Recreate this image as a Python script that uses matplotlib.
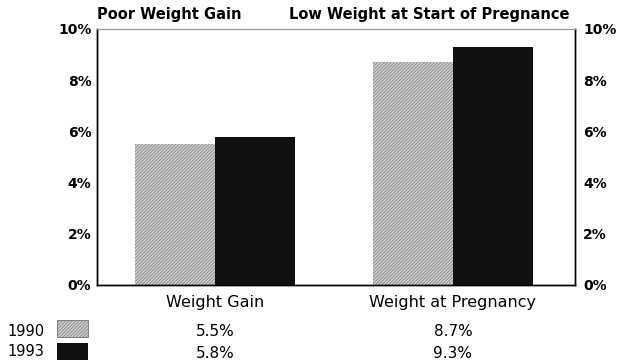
import matplotlib.pyplot as plt
import matplotlib.patches as mpatches
import matplotlib.transforms as mtransforms
import numpy as np

categories = ["Weight Gain", "Weight at Pregnancy"]
titles = ["Poor Weight Gain", "Low Weight at Start of Pregnance"]
years = ["1990", "1993"]
vals_1990 = [5.5, 8.7]
vals_1993 = [5.8, 9.3]
yticks = [0, 2, 4, 6, 8, 10]

plt.rcParams['font.family'] = ['DejaVu Sans']
plt.rcParams['hatch.linewidth'] = 0.5
plt.rcParams['hatch.color'] = '#707070'

fig = plt.figure(figsize=(6.18, 3.63), dpi=100)
ax = fig.add_axes([97/618, 1-285/363, 478/618, 256/363])

x = np.arange(len(categories))
w = 0.335
ax.bar(x - w/2, vals_1990, w, color='#d2d2d2', hatch='//////////', edgecolor='#707070', linewidth=0)
ax.bar(x + w/2, vals_1993, w, color='#111111', edgecolor='#111111', linewidth=0)

ax.set_xlim(-0.496, 1.513)
ax.set_ylim(0, 10)
ax.set_yticks(yticks)
ax.set_yticklabels([f"{t}%" for t in yticks], fontweight='bold', fontsize=10)
ax.tick_params(axis='y', length=0, pad=4)
ax.set_xticks(x)
ax.set_xticklabels(categories, fontsize=11.5)
ax.tick_params(axis='x', length=0, pad=7)

# same percentage scale repeated on the right
ax2 = ax.twinx()
ax2.set_ylim(0, 10)
ax2.set_yticks(yticks)
ax2.set_yticklabels([f"{t}%" for t in yticks], fontweight='bold', fontsize=10)
ax2.tick_params(axis='y', length=0, pad=6)

for a in (ax, ax2):
    for s in ['left', 'right', 'bottom']:
        a.spines[s].set_linewidth(1.0)
    a.spines['top'].set_color('#9a9a9a')
    a.spines['top'].set_linewidth(0.8)

# group titles above the plot
fig.text(97/618, 1-14/363, titles[0], ha='left', va='center', fontsize=10.5, fontweight='bold')
fig.text(289/618, 1-14/363, titles[1], ha='left', va='center', fontsize=10.5, fontweight='bold')

# data table below the axis
trans = mtransforms.blended_transform_factory(ax.transData, fig.transFigure)
for xi, v0, v1 in zip(x, vals_1990, vals_1993):
    ax.text(xi, 1-332/363, f"{v0}%", transform=trans, ha='center', va='center', fontsize=11)
    ax.text(xi, 1-353/363, f"{v1}%", transform=trans, ha='center', va='center', fontsize=11)

fig.text(7/618, 1-331/363, years[0], ha='left', va='center', fontsize=10.5)
fig.text(7/618, 1-352/363, years[1], ha='left', va='center', fontsize=10.5)
fig.add_artist(mpatches.Rectangle((57/618, 1-337/363), 31/618, 17/363, transform=fig.transFigure,
                                  facecolor='#d2d2d2', hatch='//////////', edgecolor='#707070', linewidth=0.6))
fig.add_artist(mpatches.Rectangle((57/618, 1-360/363), 31/618, 17/363, transform=fig.transFigure,
                                  facecolor='#111111', edgecolor='#111111', linewidth=0))

fig.savefig("out.png", dpi=100)
